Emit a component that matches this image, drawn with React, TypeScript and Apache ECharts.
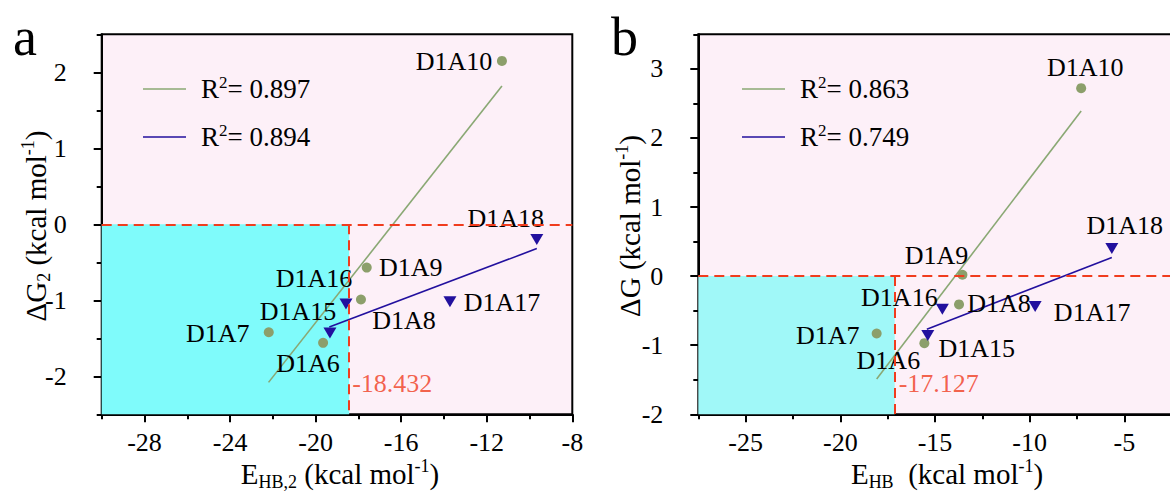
import React, { useEffect, useRef } from "react";
import * as echarts from "echarts";

// ---------- data ----------
// Panel a
const aGreenNames = ["D1A6", "D1A7", "D1A8", "D1A9", "D1A10"];
const aGreenX = [-19.65, -22.19, -17.88, -17.61, -11.29];
const aGreenY = [-1.56, -1.42, -0.99, -0.57, 2.15];
const aBlueNames = ["D1A15", "D1A16", "D1A17", "D1A18"];
const aBlueX = [-19.33, -18.58, -13.72, -9.66];
const aBlueY = [-1.43, -1.05, -1.02, -0.2];
const aGreenFitX = [-22.2, -11.29];
const aGreenFitY = [-2.08, 1.82];
const aBlueFitX = [-19.36, -9.66];
const aBlueFitY = [-1.35, -0.32];
const aThreshold = -18.432;
const aR2 = ["0.897", "0.894"];
const aXMajor = [-28, -24, -20, -16, -12, -8];
const aXMinor = [-30, -26, -22, -18, -14, -10];
const aYMajor = [-2, -1, 0, 1, 2];
const aYMinor = [-2.5, -1.5, -0.5, 0.5, 1.5, 2.5];

// Panel b
const bGreenNames = ["D1A6", "D1A7", "D1A8", "D1A9", "D1A10"];
const bGreenX = [-15.56, -18.08, -13.73, -13.55, -7.28];
const bGreenY = [-0.97, -0.83, -0.41, 0.02, 2.72];
const bBlueNames = ["D1A15", "D1A16", "D1A17", "D1A18"];
const bBlueX = [-15.38, -14.61, -9.71, -5.66];
const bBlueY = [-0.86, -0.48, -0.44, 0.4];
const bGreenFitX = [-18.08, -7.28];
const bGreenFitY = [-1.49, 2.39];
const bBlueFitX = [-15.43, -5.66];
const bBlueFitY = [-0.77, 0.27];
const bThreshold = -17.127;
const bR2 = ["0.863", "0.749"];
const bXMajor = [-25, -20, -15, -10, -5];
const bXMinor = [-27.5, -22.5, -17.5, -12.5, -7.5, -2.5];
const bYMajor = [-2, -1, 0, 1, 2, 3];
const bYMinor = [-1.5, -0.5, 0.5, 1.5, 2.5, 3.5];

// ---------- layout / style (not data) ----------
const aGreenLabelOffset = [[-15, 21], [-51, 1], [43, 21], [44, 0], [-48, 1]];
const aBlueLabelOffset = [[-32, -21], [-32, -26], [52, 1], [-31, -21]];
const bGreenLabelOffset = [[-36, 17], [-49, 2], [40, -1], [-26, -19], [4, -21]];
const bBlueLabelOffset = [[49, 13], [-43, -12], [57, 6], [13, -23]];

const FONT = "'Liberation Serif', 'Times New Roman', serif";
const GREEN_DOT = "#8c9f6b";
const GREEN_LINE = "#8aa874";
const BLUE = "#22109e";
const RED = "#f03c1e";
const PINK = "#fdf0f8";

const zip = (xs: number[], ys: number[]) => xs.map((x, i) => [x, ys[i]]);

function makeAxes(
  gridIndex: number,
  min: number,
  max: number,
  majors: number[],
  minors: number[],
  isX: boolean
) {
  const common = {
    type: "value" as const,
    gridIndex,
    min,
    max,
    position: isX ? "bottom" : "left",
    splitLine: { show: false },
    axisPointer: { show: false },
  };
  return [
    {
      ...common,
      axisLine: { show: true, onZero: false, lineStyle: { color: "#000", width: 2 } },
      axisTick: {
        show: true,
        inside: false,
        length: 8,
        customValues: majors,
        lineStyle: { color: "#000", width: 2 },
      },
      axisLabel: {
        show: true,
        customValues: majors,
        margin: isX ? 15 : 35,
        fontSize: 26,
        fontFamily: FONT,
        color: "#000",
      },
    },
    {
      ...common,
      axisLine: { show: false, onZero: false },
      axisTick: {
        show: true,
        inside: false,
        length: 5,
        customValues: minors,
        lineStyle: { color: "#000", width: 2 },
      },
      axisLabel: { show: false },
    },
  ];
}

function panelSeries(
  axisIdx: number,
  xMin: number,
  xMax: number,
  yMin: number,
  threshold: number,
  thresholdLabelY: number,
  thresholdGap: number,
  cyan: string,
  greenNames: string[],
  greenX: number[],
  greenY: number[],
  greenOff: number[][],
  blueNames: string[],
  blueX: number[],
  blueY: number[],
  blueOff: number[][],
  gFitX: number[],
  gFitY: number[],
  bFitX: number[],
  bFitY: number[]
) {
  const labelStyle = {
    show: true,
    position: "inside",
    fontSize: 26,
    fontFamily: FONT,
    color: "#000",
  };
  return [
    {
      type: "line",
      xAxisIndex: axisIdx,
      yAxisIndex: axisIdx,
      data: [],
      z: 1,
      silent: true,
      markArea: {
        silent: true,
        itemStyle: { color: cyan, opacity: 1, borderWidth: 0 },
        data: [[{ coord: [xMin, yMin] }, { coord: [threshold, 0] }]],
      },
      markLine: {
        silent: true,
        symbol: ["none", "none"],
        label: { show: false },
        lineStyle: { color: RED, width: 2, type: [10, 6] },
        data: [
          [{ coord: [xMin, 0] }, { coord: [xMax, 0] }],
          [{ coord: [threshold, 0] }, { coord: [threshold, yMin] }],
        ],
      },
    },
    {
      type: "line",
      xAxisIndex: axisIdx,
      yAxisIndex: axisIdx,
      data: zip(gFitX, gFitY),
      symbol: "none",
      z: 3,
      lineStyle: { color: GREEN_LINE, width: 1.6 },
    },
    {
      type: "line",
      xAxisIndex: axisIdx,
      yAxisIndex: axisIdx,
      data: zip(bFitX, bFitY),
      symbol: "none",
      z: 3,
      lineStyle: { color: BLUE, width: 1.6 },
    },
    {
      type: "scatter",
      xAxisIndex: axisIdx,
      yAxisIndex: axisIdx,
      z: 4,
      symbol: "circle",
      symbolSize: 10,
      itemStyle: { color: GREEN_DOT, opacity: 1 },
      data: greenX.map((x, i) => ({
        value: [x, greenY[i]],
        label: { ...labelStyle, formatter: greenNames[i], offset: greenOff[i] },
      })),
    },
    {
      type: "scatter",
      xAxisIndex: axisIdx,
      yAxisIndex: axisIdx,
      z: 4,
      symbol: "triangle",
      symbolRotate: 180,
      symbolSize: [13, 11],
      itemStyle: { color: BLUE, opacity: 1 },
      data: blueX.map((x, i) => ({
        value: [x, blueY[i]],
        label: { ...labelStyle, formatter: blueNames[i], offset: blueOff[i] },
      })),
    },
    {
      type: "scatter",
      xAxisIndex: axisIdx,
      yAxisIndex: axisIdx,
      z: 5,
      symbolSize: 0,
      silent: true,
      data: [
        {
          value: [threshold, thresholdLabelY],
          label: {
            show: true,
            position: "right",
            distance: thresholdGap,
            formatter: String(threshold),
            fontSize: 26,
            fontFamily: FONT,
            color: RED,
          },
        },
      ],
    },
  ];
}

const titleRich = {
  n: { fontSize: 29, fontFamily: FONT, fill: "#000", lineHeight: 34 },
  s: { fontSize: 18, fontFamily: FONT, fill: "#000", lineHeight: 16, verticalAlign: "bottom" },
  p: { fontSize: 18, fontFamily: FONT, fill: "#000", lineHeight: 18, verticalAlign: "top" },
};
const legendRich = {
  n: { fontSize: 27, fontFamily: FONT, fill: "#000", lineHeight: 30 },
  p: { fontSize: 17, fontFamily: FONT, fill: "#000", lineHeight: 19, verticalAlign: "top" },
};

function legendGraphics(x0: number, r2: string[]) {
  const ys = [89, 137];
  const colors = [GREEN_LINE, BLUE];
  const out: any[] = [];
  ys.forEach((y, i) => {
    out.push({
      type: "line",
      shape: { x1: x0, y1: y, x2: x0 + 43, y2: y },
      style: { stroke: colors[i], lineWidth: 1.6 },
    });
    out.push({
      type: "text",
      x: x0 + 58,
      y,
      style: {
        text: `{n|R}{p|2}{n|= ${r2[i]}}`,
        rich: legendRich,
        align: "left",
        verticalAlign: "middle",
      },
    });
  });
  return out;
}

export default function App() {
  const ref = useRef<HTMLDivElement>(null);
  useEffect(() => {
    document.body.style.margin = "0";
    if (!ref.current) return;
    const chart = echarts.init(ref.current, undefined, { renderer: "svg" });
    const aAxesX = makeAxes(0, -30, -8, aXMajor, aXMinor, true);
    const bAxesX = makeAxes(1, -27.5, 0, bXMajor, bXMinor, true);
    const aAxesY = makeAxes(0, -2.5, 2.5, aYMajor, aYMinor, false);
    const bAxesY = makeAxes(1, -2, 3.5, bYMajor, bYMinor, false);
    const option: any = {
      animation: false,
      backgroundColor: "#fff",
      grid: [
        {
          left: 101.7,
          top: 34.3,
          width: 470.6,
          height: 380,
          show: true,
          backgroundColor: PINK,
          borderColor: "#000",
          borderWidth: 2,
          containLabel: false,
          outerBoundsMode: "none",
        },
        {
          left: 698.3,
          top: 34.3,
          width: 520.7,
          height: 380,
          show: true,
          backgroundColor: PINK,
          borderColor: "#000",
          borderWidth: 2,
          containLabel: false,
          outerBoundsMode: "none",
        },
      ],
      // indices: 0 a-major, 1 a-minor, 2 b-major, 3 b-minor
      xAxis: [...aAxesX, ...bAxesX],
      yAxis: [...aAxesY, ...bAxesY],
      series: [
        ...panelSeries(
          0, -30, -8, -2.5, aThreshold, -2.1, 3, "#7ffbfb",
          aGreenNames, aGreenX, aGreenY, aGreenLabelOffset,
          aBlueNames, aBlueX, aBlueY, aBlueLabelOffset,
          aGreenFitX, aGreenFitY, aBlueFitX, aBlueFitY
        ),
        ...panelSeries(
          2, -27.5, 0, -2, bThreshold, -1.56, 4, "#a0f8f8",
          bGreenNames, bGreenX, bGreenY, bGreenLabelOffset,
          bBlueNames, bBlueX, bBlueY, bBlueLabelOffset,
          bGreenFitX, bGreenFitY, bBlueFitX, bBlueFitY
        ),
      ],
      graphic: [
        {
          type: "text",
          x: 13,
          y: 37,
          style: { text: "a", fontSize: 54, fontFamily: FONT, fill: "#000", align: "left", verticalAlign: "middle" },
        },
        {
          type: "text",
          x: 611,
          y: 37,
          style: { text: "b", fontSize: 54, fontFamily: FONT, fill: "#000", align: "left", verticalAlign: "middle" },
        },
        {
          type: "text",
          x: 340,
          y: 474,
          style: {
            text: "{n|E}{s|HB,2}{n| (kcal mol}{p|-1}{n|)}",
            rich: titleRich,
            align: "center",
            verticalAlign: "middle",
          },
        },
        {
          type: "text",
          x: 947,
          y: 474,
          style: {
            text: "{n|E}{s|HB}{n|  (kcal mol}{p|-1}{n|)}",
            rich: titleRich,
            align: "center",
            verticalAlign: "middle",
          },
        },
        {
          type: "text",
          x: 36,
          y: 226,
          rotation: Math.PI / 2,
          style: {
            text: "{n|ΔG}{s|2}{n| (kcal mol}{p|-1}{n|)}",
            rich: titleRich,
            align: "center",
            verticalAlign: "middle",
          },
        },
        {
          type: "text",
          x: 630,
          y: 226,
          rotation: Math.PI / 2,
          style: {
            text: "{n|ΔG (kcal mol}{p|-1}{n|)}",
            rich: titleRich,
            align: "center",
            verticalAlign: "middle",
          },
        },
        ...legendGraphics(143, aR2),
        ...legendGraphics(742, bR2),
      ],
    };
    chart.setOption(option);
    return () => chart.dispose();
  }, []);
  return (
    <div
      ref={ref}
      style={{ position: "fixed", left: 0, top: 0, width: 1170, height: 499, overflow: "hidden" }}
    />
  );
}
